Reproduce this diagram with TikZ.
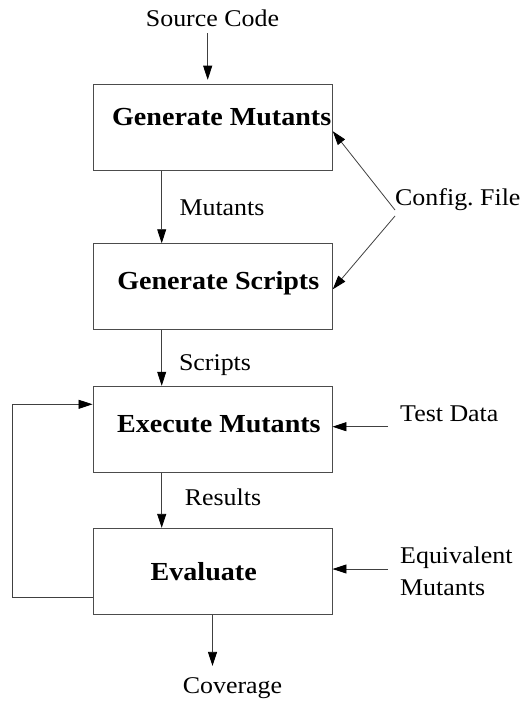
\documentclass[tikz,border=0pt]{standalone}
\usepackage{fontspec}
\setmainfont{Liberation Serif}[FakeStretch=1.08]
\usetikzlibrary{arrows.meta}
\tikzset{
 box/.style={draw=black!70, line width=0.9pt, minimum width=239pt, minimum height=86pt, inner sep=0pt},
 title/.style={font=\fontsize{26}{30}\selectfont\bfseries, inner sep=0pt, anchor=base},
 lbl/.style={font=\fontsize{24}{28}\selectfont, inner sep=0pt, anchor=base},
 conn/.style={draw=black!75, line width=0.8pt},
 arr/.style={conn, -{Triangle[length=14pt,width=9pt,color=black]}},
}
\begin{document}
\begin{tikzpicture}[x=1pt,y=-1pt]
\useasboundingbox (0,0) rectangle (524,701);
\node[box] (gm) at (212.8,127.2) {};
\node[box] (gs) at (212.8,286.7) {};
\node[box] (em) at (212.5,429.2) {};
\node[box] (ev) at (212.5,571.3) {};
\node[title] (gmt) at (221.7,125) {Generate Mutants};
\node[title] (gst) at (218.3,289) {Generate Scripts};
\node[title] (emt) at (218.9,432.3) {Execute Mutants};
\node[title] (evt) at (203.7,580.7) {Evaluate};
\node[lbl] (src) at (212.5,26.7) {Source Code};
\node[lbl] (mut) at (222,215) {Mutants};
\node[lbl, anchor=base west] (cfg) at (395,205) {Config.\ File};
\node[lbl] (scr) at (215,370) {Scripts};
\node[lbl, anchor=base west] (td) at (400,421) {Test Data};
\node[lbl] (res) at (223,505.7) {Results};
\node[lbl, anchor=base west] (eq1) at (400,563.3) {Equivalent};
\node[lbl, anchor=base west] (eq2) at (400,595) {Mutants};
\node[lbl] (cov) at (232.5,693) {Coverage};
% arrows
\draw[arr] ([xshift=-4.8pt,yshift=-6pt]src.south) -- ([xshift=-5.1pt,yshift=4pt]gm.north);
\draw[arr] ([xshift=-51.1pt]gm.south) -- ([xshift=-51.1pt]gs.north);
\draw[arr] ([xshift=-51.1pt]gs.south) -- ([xshift=-50.8pt]em.north);
\draw[arr] ([xshift=-50.8pt]em.south) -- ([xshift=-50.8pt]ev.north);
\draw[arr, shorten >=11pt] (ev.south) -- (ev.south |- cov.north);
\coordinate (cfa) at (395,210);
\coordinate (cfb) at (395,216);
\draw[arr] (cfa) -- ([yshift=-4pt]gm.east);
\draw[arr] (cfb) -- ([yshift=-2.6pt]gs.east);
\coordinate (tdA) at (388,426.7);
\draw[arr] (tdA) -- (tdA -| em.east);
\coordinate (eqA) at (388,569);
\draw[arr] (eqA) -- (eqA -| ev.east);
\draw[arr] ([yshift=-26pt]ev.west) -- ++(-80,0) |- ([yshift=24.9pt]em.west);
\end{tikzpicture}
\end{document}
